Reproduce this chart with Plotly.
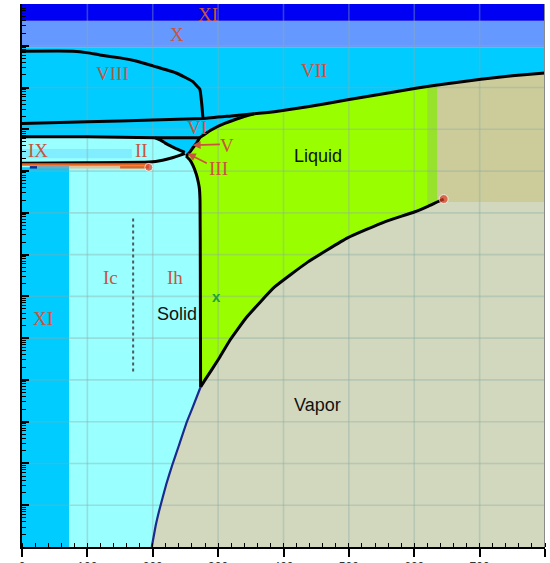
import numpy as np
import plotly.graph_objects as go

# Temperatures in K, pressures stored as log10(P / Pa)

# ice Ih - vapour (sublimation)
subl_T = [198.5, 205, 210, 221, 230, 240, 252, 260, 273.2]
subl_logP = [-1.0, -0.45, -0.12, 0.52, 0.97, 1.43, 1.99, 2.30, 2.83]

# liquid - vapour, triple point to critical point
lv_T = [273.2, 280, 302, 318, 343.5, 386, 437, 498, 554, 600, 620, 635, 645]
lv_logP = [2.83, 3.0, 3.53, 3.95, 4.50, 5.22, 5.82, 6.40, 6.78, 7.02, 7.15, 7.26, 7.33]

# ice Ih - liquid (melting)
melt_T = [273.2, 272.8, 272.3, 271.2, 269.0, 266.5, 262.0, 257.0, 251.0]
melt_logP = [2.83, 5.5, 7.30, 7.60, 7.78, 7.93, 8.12, 8.26, 8.36]

# ices III / V / VI - liquid
lu_T = [251, 257, 262, 267, 272, 290, 310, 333, 355]
lu_logP = [8.36, 8.46, 8.57, 8.67, 8.80, 8.99, 9.14, 9.27, 9.37]

# ice VII - liquid
vl_T = [355, 386, 437, 496, 560, 605, 650, 702, 750, 800]
vl_logP = [9.37, 9.42, 9.54, 9.70, 9.87, 9.99, 10.09, 10.20, 10.28, 10.35]

# upper edge of ice VI (VI - VIII / VI - VII)
vu_T = [0, 100, 200, 278, 320, 355]
vu_logP = [9.14, 9.18, 9.22, 9.26, 9.32, 9.37]

# lower edge of ice VI (II - VI / V - VI)
vlow_T = [0, 100, 203, 272]
vlow_logP = [8.82, 8.82, 8.80, 8.80]

# ice II - ice V
wu_T = [203, 212, 219, 230, 240, 249]
wu_logP = [8.80, 8.74, 8.67, 8.58, 8.51, 8.45]

# ice II - ice Ih / ice III
wl_T = [0, 100, 195, 215, 230, 240, 249]
wl_logP = [8.19, 8.20, 8.215, 8.26, 8.32, 8.37, 8.42]

# ice VIII - ice VII
v8_T = [0, 78, 101, 119, 150, 173, 200, 215, 234, 250, 261.5, 268, 272, 275, 276.8]
v8_logP = [10.87, 10.87, 10.83, 10.78, 10.71, 10.64, 10.52, 10.45, 10.36, 10.24,
           10.14, 10.03, 9.96, 9.60, 9.26]

# band limits
ice_x_low, ice_x_high = 10.96, 11.60
ice_xi_low_T = 72
ice_ix_T = 168
ice_ix_logP = [8.31, 8.53]
ic_ih_T = 170
ic_ih_logP = [3.20, 6.87]
ih_ii_line_logP = 8.155
ih_ii_strip_logP = 8.09
ih_ii_end_T = 194
critical = (645, 7.33)
fluid_T = 635
strip_T = 620

tick_T = [0, 100, 200, 300, 400, 500, 600, 700, 800]
decades = list(range(0, 12))

CYAN = "#00CCFF"
LIGHT = "#99FFFF"
LIME = "#99FF00"
VAPOR = "#D1D8BD"
FLUID = "#CCCC9A"
LABEL = "#C8553D"


def pa(v):
    return np.power(10.0, np.asarray(v, dtype=float))


fig = go.Figure()


def region(T, logP, color):
    fig.add_trace(go.Scatter(x=list(T), y=pa(logP), fill="toself", fillcolor=color,
                             mode="lines", line=dict(width=0, color=color),
                             hoverinfo="skip", showlegend=False))


def rect(t0, t1, p0, p1, color):
    region([t0, t1, t1, t0], [p0, p0, p1, p1], color)


def curve(T, logP, color="black", width=3, dash=None, spline=True):
    fig.add_trace(go.Scatter(x=list(T), y=pa(logP), mode="lines",
                             line=dict(color=color, width=width, dash=dash,
                                       shape="spline" if spline else "linear",
                                       smoothing=0.35),
                             hoverinfo="skip", showlegend=False))


# supercritical fluid
rect(fluid_T, 800, critical[1] - 0.07, 10.9, FLUID)

# liquid
lv_cut = [i for i, t in enumerate(lv_T) if t <= fluid_T]
liq_T = [lv_T[i] for i in lv_cut] + [fluid_T, 230, 230]
liq_P = [lv_logP[i] for i in lv_cut] + [10.6, 10.6, lv_logP[0]]
region(liq_T, liq_P, LIME)
strip_lo = float(np.interp(strip_T, lv_T, lv_logP))
region([strip_T, fluid_T, fluid_T, strip_T],
       [strip_lo, lv_logP[lv_T.index(fluid_T)], 10.6, 10.6], "#97E22C")

# high-pressure ices (III, V, VI, VII, VIII)
hp_T = [0, 800] + vl_T[::-1] + lu_T[::-1][1:] + [0]
hp_P = [ice_x_low, ice_x_low] + vl_logP[::-1] + lu_logP[::-1][1:] + [8.0]
region(hp_T, hp_P, CYAN)

# ice Ih and ice II
ih_T = [0] + subl_T + melt_T[1:] + wu_T[::-1] + [0]
ih_P = [-1.0] + subl_logP + melt_logP[1:] + wu_logP[::-1] + [vlow_logP[0]]
region(ih_T, ih_P, LIGHT)

# ice XI (low temperature), ice IX
rect(0, ice_xi_low_T, -1.0, ih_ii_strip_logP, CYAN)
rect(0, ice_ix_T, ice_ix_logP[0], ice_ix_logP[1], "#80EEFF")

# ice X and ice XI (high pressure)
rect(0, 800, ice_x_low, ice_x_high, "#6699FF")
rect(0, 800, ice_x_high, 12.0, "#0000F5")

# grid
gx, gy = [], []
for t in tick_T[1:-1]:
    gx += [t, t, None]
    gy += [pa(-1.0), pa(12.0), None]
for d in decades:
    gx += [0, 800, None]
    gy += [pa(d), pa(d), None]
fig.add_trace(go.Scatter(x=gx, y=gy, mode="lines",
                         line=dict(color="rgba(140,170,165,0.38)", width=1.6),
                         hoverinfo="skip", showlegend=False))

# phase boundaries
curve(v8_T, v8_logP)
curve(vu_T, vu_logP)
curve(vl_T, vl_logP)
curve(lu_T, lu_logP)
curve(vlow_T, vlow_logP)
curve(wu_T, wu_logP)
curve(wl_T, wl_logP)
curve(melt_T, melt_logP)
curve(lv_T, lv_logP)
curve(subl_T, subl_logP, color="#1B2A8C", width=2.2)
curve([ic_ih_T, ic_ih_T], ic_ih_logP, color="#4D5A60", width=2, dash="dot", spline=False)

# Ih - II transition marker
curve([0, ih_ii_end_T], [ih_ii_line_logP] * 2, color="#E8641E", width=2.5, spline=False)
curve([12, 23], [ih_ii_strip_logP] * 2, color="#1B2A8C", width=2.5, spline=False)
curve([23, ice_xi_low_T], [ih_ii_strip_logP] * 2, color="#7FA6B4", width=2.5, spline=False)
curve([ice_xi_low_T, 150], [ih_ii_strip_logP] * 2, color="#E2C29A", width=2.5, spline=False)
curve([150, ih_ii_end_T], [ih_ii_strip_logP] * 2, color="#E8641E", width=2.5, spline=False)

fig.add_trace(go.Scatter(x=[ih_ii_end_T, critical[0]],
                         y=pa([ih_ii_strip_logP, critical[1]]), mode="markers",
                         marker=dict(color="#E0402A", size=[8, 9]),
                         hoverinfo="skip", showlegend=False))

annotations = []


def label(text, T, logP, color=LABEL, size=19, family="Liberation Serif"):
    annotations.append(dict(x=T, y=logP, text=text, showarrow=False,
                            font=dict(family=family, size=size, color=color),
                            xanchor="center", yanchor="middle"))


label("XI", 284, 11.75)
label("X", 237, 11.28)
label("VIII", 139, 10.34)
label("VII", 446, 10.40)
label("VI", 268, 9.04)
label("V", 314, 8.61)
label("III", 300, 8.06)
label("II", 183.5, 8.50)
label("IX", 24, 8.49)
label("Ic", 136, 5.45)
label("Ih", 234, 5.46)
label("XI", 32, 4.47)
label("Liquid", 452, 8.36, color="#111111", size=18, family="Liberation Sans")
label("Solid", 237, 4.58, color="#111111", size=18, family="Liberation Sans")
label("Vapor", 452.6, 2.40, color="#111111", size=18, family="Liberation Sans")
label("<b>x</b>", 297, 5.0, color="#1FA03A", size=15, family="Liberation Sans")

for head, tail in [((261, 8.62), (305, 8.64)), ((253.5, 8.42), (285, 8.17))]:
    annotations.append(dict(x=head[0], y=head[1], ax=tail[0], ay=tail[1],
                            axref="x", ayref="y", text="", showarrow=True,
                            arrowhead=2, arrowsize=1, arrowwidth=1.6,
                            arrowcolor=LABEL))

fig.update_layout(
    width=550, height=563,
    margin=dict(l=22, r=5, t=4, b=16),
    paper_bgcolor="white",
    plot_bgcolor=VAPOR,
    showlegend=False,
    annotations=annotations,
    shapes=[dict(type="line", xref="x", yref="paper", x0=800, x1=800, y0=0, y1=1,
                 line=dict(color="#8A8A8A", width=2))],
    xaxis=dict(range=[0, 800], showgrid=False, zeroline=False, showline=True,
               linecolor="black", linewidth=2, ticks="outside", ticklen=8,
               tickwidth=1.5, tickcolor="black", tickmode="array", tickvals=tick_T,
               ticktext=[str(t) for t in tick_T],
               tickfont=dict(family="Liberation Sans", size=12, color="#333333"),
               minor=dict(ticks="inside", dtick=20, ticklen=4, tickwidth=1,
                          tickcolor="black"),
               automargin=False, fixedrange=True),
    yaxis=dict(type="log", range=[-1, 12], showgrid=False, zeroline=False,
               showline=True, linecolor="black", linewidth=2, ticks="inside",
               ticklen=7, tickwidth=2, tickcolor="black", tickmode="linear",
               tick0=0, dtick=1, showticklabels=False,
               minor=dict(ticks="inside", ticklen=4, tickwidth=1, dtick="D1",
                          tickcolor="black"),
               automargin=False, fixedrange=True),
)

fig.write_html("out.html")
